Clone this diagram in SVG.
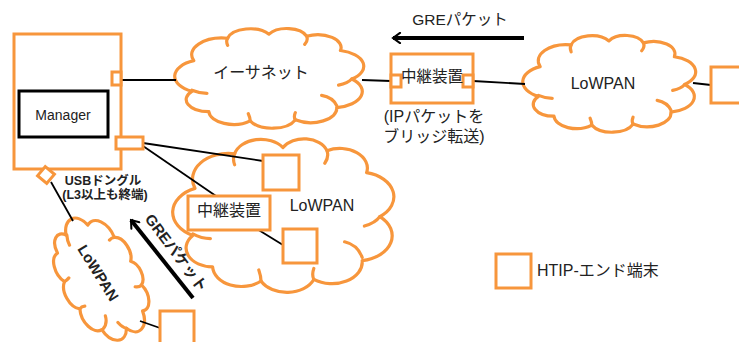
<svg xmlns="http://www.w3.org/2000/svg" xmlns:xlink="http://www.w3.org/1999/xlink" width="739" height="342" viewBox="0 0 739 342">
<style>
.or{fill:#fff;stroke:#F7963C;stroke-width:3}
.cl{fill:#fff;stroke:#F7963C;stroke-width:3.2;stroke-linecap:round;stroke-linejoin:round;vector-effect:non-scaling-stroke}
.curl{fill:none;stroke:#F7963C;stroke-width:3.2;stroke-linecap:round;vector-effect:non-scaling-stroke}
.ln{stroke:#000;stroke-width:1.8;fill:none}
.ar{stroke:#000;stroke-width:4;fill:none;marker-end:url(#ah)}
.t{font-family:"Liberation Sans","Noto Sans CJK JP",sans-serif;fill:#222;text-anchor:middle}
.b{font-weight:bold}
</style>
<defs>
<marker id="ah" viewBox="0 0 10 10" refX="8.5" refY="5" markerWidth="3.2" markerHeight="3.2" orient="auto" markerUnits="strokeWidth">
<path d="M3,1 L8.5,5 L3,9" fill="none" stroke="#000" stroke-width="1.6" stroke-linecap="round" stroke-linejoin="miter"/>
</marker>
<g id="cloud">
<path class="cl" d="M9,64 A16.5,16.5 0 0 1 10,34 A16.3,16.3 0 0 1 28,12 A12.3,12.3 0 0 1 50,8 A11,11 0 0 1 70,10 A12.5,12.5 0 0 1 88,24 A15.7,15.7 0 0 1 94,52 A16,16 0 0 1 86,80 A13.8,13.8 0 0 1 64,92 A13.2,13.2 0 0 1 40,93 A13.1,13.1 0 0 1 18,84 A12,12 0 0 1 9,64 Z"/>
<path class="curl" d="M9,63 Q13,66 17,66 M28,12 Q27,15 28,19 M70,10 Q71,14 69,18 M94,52 Q92,56 87,58 M78,68 Q84,70 86,78 M64,92 Q63,89 64,85 M40,93 Q40,90 39,86"/>
</g>
</defs>

<g id="ethernet-cloud">
<use xlink:href="#cloud" transform="translate(175,26) scale(1.88,1.02)"/>
<text class="t" x="261" y="78" font-size="16">イーサネット</text>
</g>
<g id="lowpan-right">
<use xlink:href="#cloud" transform="translate(523,33) scale(1.72,0.99)"/>
<text class="t" x="603" y="89" font-size="16">LoWPAN</text>
</g>
<g id="lowpan-center">
<use xlink:href="#cloud" transform="translate(173,135) scale(2.2,1.57)"/>
<text class="t" x="322" y="211" font-size="16">LoWPAN</text>
</g>
<g id="lowpan-small">
<use xlink:href="#cloud" transform="translate(101,277) rotate(62) translate(-65,-40) scale(1.3,0.8)"/>
<text class="t b" x="0" y="0" font-size="15" fill="#111" transform="translate(98,273) rotate(58)" dy="5">LoWPAN</text>
</g>

<g id="connectors">
<line class="ln" x1="121" y1="80" x2="176" y2="80"/>
<line class="ln" x1="362" y1="80" x2="391" y2="81"/>
<line class="ln" x1="473" y1="81" x2="525" y2="84"/>
<line class="ln" x1="693" y1="83" x2="711" y2="85"/>
<line class="ln" x1="143" y1="143" x2="263" y2="161"/>
<line class="ln" x1="143" y1="146" x2="216" y2="196"/>
<line class="ln" x1="257" y1="229" x2="283" y2="245"/>
<line class="ln" x1="51" y1="182" x2="73" y2="221"/>
<line class="ln" x1="140" y1="321" x2="160" y2="328"/>
<line class="ar" x1="524" y1="38" x2="393" y2="38"/>
<line class="ar" x1="193" y1="298" x2="131" y2="220"/>
</g>

<g id="manager-device">
<rect class="or" x="14" y="34" width="107" height="135"/>
<rect x="19" y="91" width="89" height="46" fill="#fff" stroke="#000" stroke-width="3"/>
<text class="t" x="63" y="120" font-size="14">Manager</text>
<rect class="or" x="112" y="72" width="9" height="13" stroke-width="2.5"/>
<rect class="or" x="116" y="137" width="27" height="12" stroke-width="2.5"/>
<rect class="or" x="-6" y="-6" width="12" height="12" stroke-width="2.5" transform="translate(46,175) rotate(40)"/>
<text class="t b" x="103" y="185" font-size="12.5" fill="#404040">USBドングル</text>
<text class="t b" x="105" y="199" font-size="12.5" fill="#404040">(L3以上も終端)</text>
</g>

<g id="relay-top">
<rect class="or" x="391" y="54" width="82" height="49"/>
<rect class="or" x="391" y="75" width="10" height="12" stroke-width="2.5"/>
<rect class="or" x="463" y="75" width="10" height="12" stroke-width="2.5"/>
<text class="t" x="432" y="82" font-size="15.5">中継装置</text>
<text class="t" x="434" y="122" font-size="16">(IPパケットを</text>
<text class="t" x="434" y="142" font-size="16">ブリッジ転送)</text>
</g>
<text class="t" x="460" y="25" font-size="15.5">GREパケット</text>
<text class="t b" x="0" y="0" font-size="15" transform="translate(176,253) rotate(53)" dy="5">GREパケット</text>

<g id="relay-center">
<rect class="or" x="188" y="196" width="82" height="34"/>
<text class="t" x="229" y="216" font-size="16">中継装置</text>
</g>
<g id="end-1"><rect class="or" x="263" y="155" width="36" height="35"/></g>
<g id="end-2"><rect class="or" x="283" y="229" width="34" height="34"/></g>
<g id="end-3"><rect class="or" x="160" y="311" width="34" height="40"/></g>
<g id="end-4"><rect class="or" x="711" y="67" width="40" height="36"/></g>
<g id="legend">
<rect class="or" x="496" y="254" width="35" height="34"/>
<text class="t" x="537" y="276" font-size="16" text-anchor="start" style="text-anchor:start">HTIP-エンド端末</text>
</g>
</svg>
